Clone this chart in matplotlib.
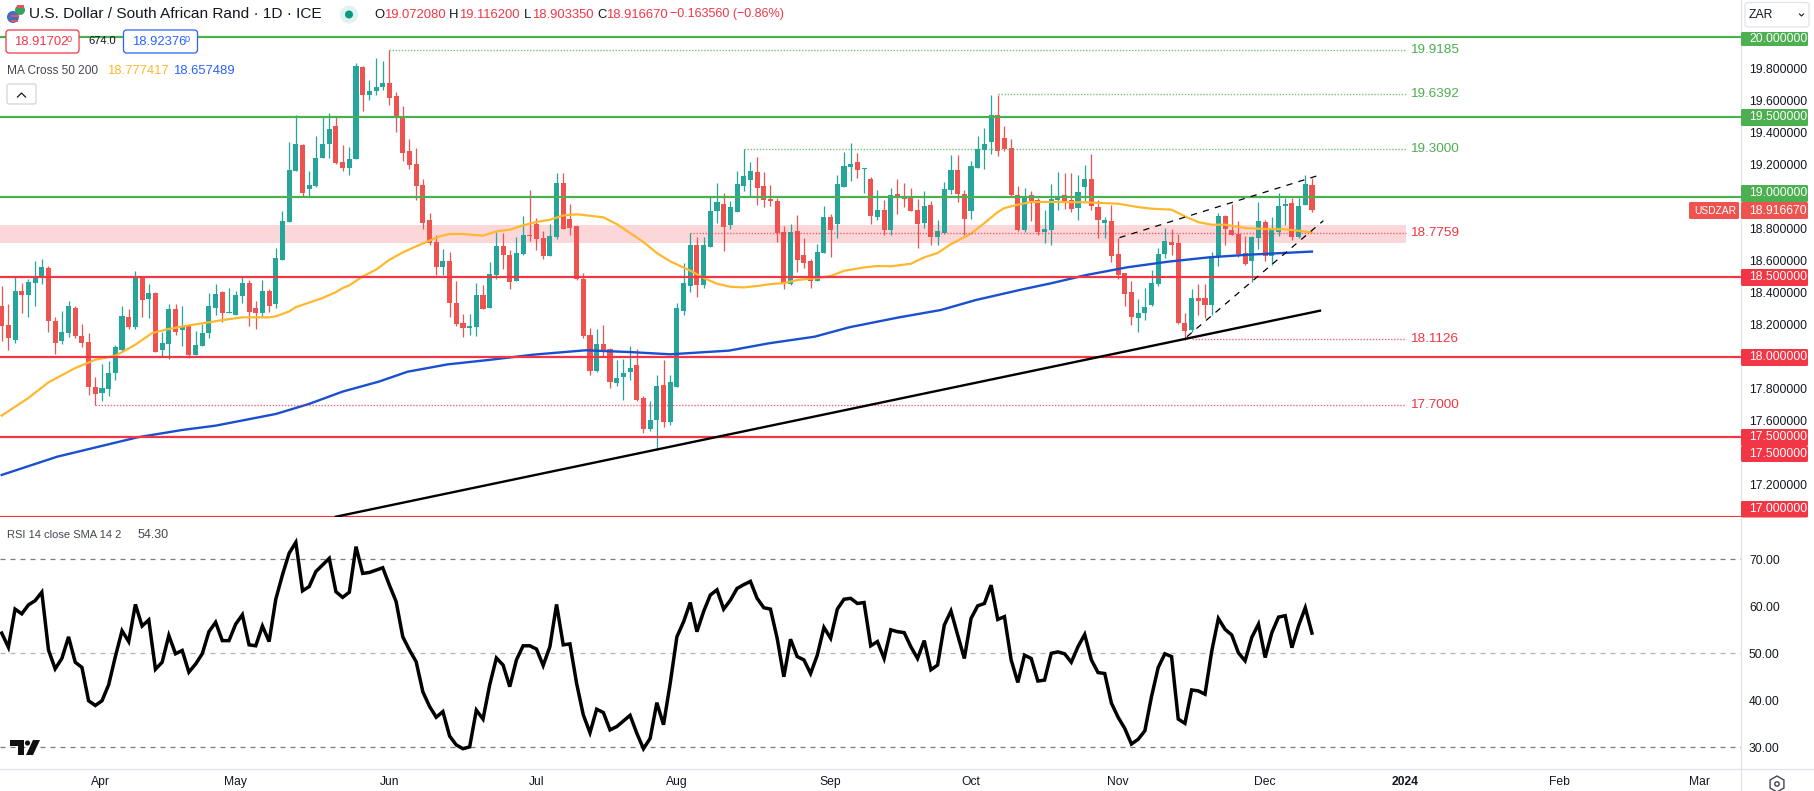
import matplotlib
matplotlib.use("Agg")
import matplotlib.pyplot as plt
from matplotlib.patches import Circle, FancyBboxPatch, Polygon, Rectangle, RegularPolygon

plt.rcParams['font.family'] = ['Liberation Sans', 'DejaVu Sans']

W = 1815
H = 791

# daily candles, one entry per bar
opens = [18.319,18.200,18.106,18.413,18.388,18.463,18.494,18.556,18.225,18.100,
         18.150,18.306,18.131,18.094,17.813,17.775,17.800,17.900,18.044,18.250,
         18.188,18.500,18.363,18.400,18.044,18.081,18.300,18.169,18.200,18.013,
         18.069,18.150,18.306,18.406,18.275,18.263,18.381,18.463,18.306,18.275,
         18.413,18.331,18.606,18.844,19.163,19.325,19.050,19.069,19.244,19.331,
         19.444,19.219,19.181,19.238,19.813,19.638,19.663,19.688,19.713,19.631,
         19.494,19.288,19.206,19.075,18.856,18.719,18.563,18.600,18.338,18.213,
         18.181,18.188,18.388,18.306,18.513,18.694,18.638,18.475,18.644,18.763,
         18.831,18.744,18.631,18.750,19.088,18.863,18.819,18.488,18.138,17.913,
         18.081,18.050,17.838,17.875,17.906,17.950,17.744,17.550,17.606,17.825,
         17.594,17.813,18.286,18.444,18.700,18.450,18.688,18.913,18.956,18.825,
         18.906,19.069,19.106,19.156,19.069,18.988,18.975,18.781,18.456,18.788,
         18.638,18.600,18.475,18.650,18.875,18.831,19.063,19.188,19.219,19.175,
         19.113,18.875,18.919,18.794,19.019,19.006,18.994,18.919,18.838,18.950,
         18.750,18.775,19.044,19.169,19.019,18.913,19.181,19.294,19.344,19.513,
         19.369,19.306,19.013,18.794,19.013,18.981,18.781,18.794,18.981,19.013,
         18.981,18.931,19.063,19.113,18.938,18.838,18.850,18.644,18.525,18.406,
         18.244,18.275,18.325,18.456,18.644,18.719,18.712,18.212,18.169,18.369,
         18.369,18.325,18.631,18.881,18.794,18.769,18.650,18.600,18.744,18.844,
         18.631,18.781,18.944,18.962,18.750,18.950,19.072]
closes = [18.194,18.119,18.413,18.388,18.469,18.500,18.563,18.225,18.088,18.156,
          18.319,18.131,18.088,17.813,17.769,17.806,17.900,18.063,18.256,18.188,
          18.500,18.356,18.400,18.031,18.088,18.300,18.156,18.188,18.013,18.075,
          18.150,18.319,18.394,18.275,18.281,18.388,18.463,18.281,18.275,18.413,
          18.319,18.619,18.850,19.169,19.331,19.025,19.075,19.244,19.331,19.425,
          19.213,19.181,19.238,19.819,19.638,19.663,19.688,19.713,19.619,19.494,
          19.275,19.200,19.069,18.838,18.713,18.563,18.600,18.338,18.206,18.181,
          18.194,18.388,18.300,18.519,18.694,18.638,18.469,18.650,18.763,18.756,
          18.738,18.631,18.756,19.088,18.800,18.806,18.488,18.131,17.913,18.081,
          18.038,17.844,17.869,17.900,17.931,17.731,17.550,17.606,17.819,17.594,
          17.844,18.306,18.462,18.700,18.450,18.700,18.913,18.969,18.813,18.938,
          19.081,19.131,19.163,19.056,18.981,18.975,18.775,18.456,18.781,18.606,
          18.588,18.475,18.656,18.875,18.794,19.081,19.194,19.206,19.169,19.181,
          18.881,18.919,18.794,19.013,19.000,18.988,18.913,18.831,18.944,18.750,
          18.788,19.050,19.169,19.019,18.863,19.194,19.300,19.331,19.513,19.288,
          19.300,19.013,18.794,19.006,18.975,18.781,18.800,18.988,19.000,18.975,
          18.925,19.031,19.113,18.944,18.856,18.856,18.631,18.512,18.394,18.250,
          18.275,18.312,18.462,18.644,18.725,18.700,18.212,18.162,18.369,18.350,
          18.325,18.625,18.881,18.800,18.762,18.644,18.581,18.750,18.850,18.631,
          18.800,18.944,18.956,18.750,18.944,19.081,18.917]
highs = [18.444,18.331,18.498,18.463,18.486,18.600,18.613,18.569,18.250,18.288,
         18.350,18.319,18.206,18.150,17.875,17.956,17.975,18.075,18.319,18.300,
         18.538,18.506,18.456,18.406,18.156,18.331,18.331,18.319,18.206,18.163,
         18.206,18.400,18.456,18.412,18.431,18.412,18.506,18.481,18.350,18.481,
         18.425,18.681,18.913,19.344,19.513,19.331,19.163,19.381,19.500,19.525,
         19.506,19.325,19.313,19.838,19.819,19.731,19.869,19.850,19.919,19.656,
         19.569,19.363,19.306,19.113,18.900,18.763,18.675,18.656,18.475,18.269,
         18.269,18.463,18.450,18.594,18.781,18.775,18.669,18.750,18.881,19.044,
         18.869,18.788,18.831,19.150,19.150,18.956,18.819,18.525,18.181,18.175,
         18.200,18.056,17.981,17.988,18.069,18.050,17.756,17.725,17.888,17.981,
         17.888,18.338,18.587,18.775,18.750,18.750,19.000,19.088,19.025,18.975,
         19.163,19.300,19.219,19.250,19.156,19.075,18.994,18.819,18.831,18.888,
         18.744,18.613,18.706,18.944,18.894,19.138,19.281,19.338,19.275,19.181,
         19.125,19.044,18.981,19.056,19.113,19.088,19.056,18.988,19.038,18.975,
         18.856,19.094,19.263,19.263,19.044,19.225,19.381,19.431,19.638,19.638,
         19.444,19.363,19.069,19.056,19.038,18.994,18.919,19.081,19.156,19.150,
         19.150,19.138,19.200,19.269,18.980,18.875,18.950,18.744,18.525,18.475,
         18.362,18.431,18.544,18.681,18.806,18.800,18.769,18.275,18.425,18.456,
         18.456,18.656,18.900,18.887,18.956,18.850,18.756,18.756,18.969,18.856,
         18.875,19.025,18.994,18.994,18.994,19.137,19.116]
lows = [18.100,18.044,18.088,18.273,18.250,18.319,18.456,18.156,18.019,18.081,
        18.125,18.119,18.063,17.763,17.700,17.725,17.756,17.856,18.038,18.175,
        18.175,18.250,18.244,18.031,18.006,17.988,18.138,18.069,17.994,18.013,
        18.069,18.119,18.263,18.219,18.275,18.263,18.338,18.194,18.175,18.250,
        18.281,18.306,18.606,18.844,19.163,19.000,19.000,19.063,19.244,19.244,
        19.206,19.163,19.138,19.238,19.538,19.606,19.638,19.669,19.575,19.406,
        19.225,19.175,18.981,18.800,18.700,18.513,18.513,18.250,18.194,18.125,
        18.138,18.131,18.300,18.306,18.488,18.550,18.425,18.475,18.638,18.725,
        18.669,18.613,18.631,18.738,18.800,18.763,18.481,18.119,17.888,17.906,
        18.006,17.806,17.819,17.731,17.856,17.725,17.525,17.538,17.419,17.563,
        17.575,17.813,18.260,18.406,18.375,18.431,18.688,18.838,18.663,18.800,
        18.906,19.038,19.000,18.950,18.938,18.944,18.719,18.425,18.450,18.531,
        18.556,18.431,18.475,18.650,18.625,18.744,19.063,19.100,19.119,19.025,
        18.831,18.856,18.763,18.763,18.894,18.938,18.913,18.681,18.806,18.700,
        18.700,18.769,19.019,18.969,18.763,18.863,19.181,19.175,19.269,19.256,
        19.288,19.000,18.788,18.781,18.850,18.763,18.713,18.700,18.919,18.925,
        18.906,18.856,18.975,18.919,18.744,18.744,18.594,18.487,18.319,18.200,
        18.156,18.231,18.319,18.444,18.619,18.637,18.206,18.106,18.156,18.262,
        18.244,18.262,18.569,18.700,18.762,18.625,18.575,18.469,18.675,18.600,
        18.575,18.756,18.825,18.731,18.744,18.950,18.903]

rsi = [54.3,51.3,59.4,58.4,60.3,61.2,63.0,50.7,46.7,48.9,53.5,48.1,47.0,39.9,38.9,39.9,
       43.3,49.3,54.8,52.5,60.4,55.8,57.1,46.6,48.1,53.8,49.9,50.6,46.0,47.7,49.9,54.6,
       56.6,52.7,52.7,56.2,58.2,51.8,51.6,55.8,52.5,61.5,66.7,71.3,73.6,63.3,64.2,67.4,
       68.8,70.2,63.1,61.9,63.0,72.7,67.0,67.2,67.7,68.2,64.5,61.0,53.5,50.7,48.2,41.8,
       38.7,36.4,37.6,32.4,30.5,29.7,30.1,37.9,36.0,43.3,49.0,47.5,42.9,48.6,51.6,51.6,
       50.9,47.4,51.4,60.4,51.8,52.0,43.6,36.9,33.1,38.1,37.4,33.7,34.4,35.6,36.8,33.0,
       29.7,31.9,39.5,34.8,43.6,53.5,56.7,60.8,54.6,58.9,62.4,63.5,59.4,61.3,63.8,64.6,
       65.3,61.7,59.7,59.4,53.2,45.0,53.0,49.3,48.6,45.7,49.6,55.5,53.2,59.4,61.5,61.7,
       60.6,60.8,51.6,52.5,48.9,55.0,54.6,54.4,51.4,48.9,52.7,46.5,47.5,56.0,59.0,53.9,
       48.9,57.4,60.1,60.6,64.5,57.2,57.8,48.6,43.8,49.6,48.9,44.1,44.3,50.0,50.3,49.9,
       48.1,51.4,54.0,48.6,45.9,45.7,39.4,36.4,34.0,30.7,31.7,33.5,40.8,47.0,49.9,49.3,
       36.0,35.1,42.2,42.0,41.3,50.4,57.4,55.1,53.9,50.1,48.4,53.4,56.2,49.1,54.4,57.7,
       58.0,51.2,55.9,59.7,54.3]

# moving averages, read at selected bars
ma50_bar = [0,4,7,11,14,17,20,22.5,25,28,31,33,36,40,41,43,44,46,48,50,51,52,54,56,58,60,62,64,
            65.5,67,69,72,74,76,78,80,82,84,86,88,90,92,94,96,98,100,103,105,107,109,111,113,
            115,117,119,122,124,126,129,131,133,136,138,140,142,145,147,149,150,152,154,158,
            162,164,167,170,172,175,177,179,181,183,186,189,192,194,196]
ma50_val = [17.632,17.742,17.840,17.929,17.981,18.006,18.075,18.148,18.173,18.196,18.215,18.229,
            18.246,18.246,18.252,18.283,18.310,18.338,18.367,18.404,18.429,18.446,18.502,18.544,
            18.606,18.652,18.690,18.725,18.752,18.767,18.767,18.756,18.783,18.794,18.821,18.842,
            18.856,18.883,18.890,18.881,18.871,18.829,18.773,18.717,18.648,18.596,18.538,18.492,
            18.456,18.437,18.433,18.442,18.454,18.460,18.479,18.492,18.504,18.537,18.558,18.567,
            18.565,18.581,18.621,18.648,18.704,18.769,18.835,18.904,18.929,18.950,18.967,18.967,
            18.965,18.962,18.956,18.935,18.925,18.919,18.877,18.841,18.825,18.825,18.804,18.798,
            18.796,18.787,18.777]
ma200_bar = [0,8.3,20.3,27,32,41,46,51,56.4,60.7,66.7,72.7,79.6,87.3,94,100,108.8,114.8,121.6,
             126.8,134,140.5,145.7,152.7,157,162.3,168.4,174.5,180.6,186.7,196]
ma200_val = [17.261,17.375,17.496,17.542,17.569,17.642,17.705,17.782,17.844,17.906,17.952,17.979,
             18.013,18.040,18.029,18.015,18.038,18.084,18.125,18.184,18.244,18.292,18.354,18.421,
             18.459,18.511,18.559,18.594,18.621,18.638,18.657]

green_levels = [20.0, 19.5, 19.0]
red_levels = [18.5, 18.0, 17.5, 17.0]
band_low = 18.713
band_high = 18.822

# dotted swing levels: start bar, price, label
swing_bar = [58, 149, 111, 103, 178, 14]
swing_val = [19.9185, 19.6392, 19.3000, 18.7759, 18.1126, 17.7000]
swing_lab = ["19.9185", "19.6392", "19.3000", "18.7759", "18.1126", "17.7000"]
swing_col = ["#4caf50", "#4caf50", "#4caf50", "#f23645", "#f23645", "#f23645"]

trend_x = [50.0, 197.2]
trend_y = [17.0, 18.2875]
upper_x = [167.2, 197.2]
upper_y = [18.744, 19.136]
lower_x = [177.3, 197.7]
lower_y = [18.125, 18.85]

price_ticks = [19.8, 19.6, 19.4, 19.2, 18.8, 18.6, 18.4, 18.2, 17.8, 17.6, 17.2]
rsi_ticks = [70, 60, 50, 40, 30]
month_bar = [14.7, 35, 58, 80, 101, 124, 145, 167, 189, 210, 233, 254]
month_lab = ["Apr", "May", "Jun", "Jul", "Aug", "Sep", "Oct", "Nov", "Dec", "2024", "Feb", "Mar"]

UP = "#26a69a"
DOWN = "#ef5350"
TXT = "#131722"
GRID = "#e0e3eb"
ORANGE = "#ffb82e"
BLUE = "#1a4fd0"
LINE_GREEN = "#4caf50"
LINE_RED = "#f23645"

fig = plt.figure(figsize=(W/100, H/100), dpi=100, facecolor="white")

PANE_R = 1741.5
BAR_W = 6.685
BAR0 = 1.7


def pane(top, bottom):
    return fig.add_axes([0, 1 - bottom/H, PANE_R/W, (bottom - top)/H])


ax = pane(0, 517)
ax.set_xlim(-BAR0/BAR_W, (PANE_R - BAR0)/BAR_W)
ax.set_ylim(20 - (517 - 36.7)/160, 20 + 36.7/160)
ax2 = pane(519, 769.3)
ax2.set_xlim(ax.get_xlim())
ax2.set_ylim(30 - (769.3 - 747.3)/4.7, 70 + (559.3 - 519)/4.7)

for a in (ax, ax2):
    for s in a.spines.values():
        s.set_visible(False)
    a.yaxis.tick_right()
    a.tick_params(axis="y", length=0, pad=5.4, labelsize=8.7, labelcolor=TXT)
    a.patch.set_alpha(0)

# price pane
ax.axhspan(band_low, band_high, xmin=0, xmax=1406.5/PANE_R, color="#fbd7da", lw=0, zorder=1)

x = list(range(len(opens)))
col = [UP if c >= o else DOWN for o, c in zip(opens, closes)]
ax.vlines(x, lows, highs, colors=col, lw=0.9, zorder=2)
ax.bar(x, [abs(c - o) for o, c in zip(opens, closes)],
       bottom=[min(o, c) for o, c in zip(opens, closes)],
       width=0.76, color=col, lw=0, zorder=3)

ax.plot(ma50_bar, ma50_val, color=ORANGE, lw=1.6, zorder=4)
ax.plot(ma200_bar, ma200_val, color=BLUE, lw=1.7, zorder=4)

for lev in green_levels:
    ax.axhline(lev, color=LINE_GREEN, lw=1.6, zorder=5)
for lev in red_levels:
    ax.axhline(lev, color=LINE_RED, lw=1.6, zorder=5)

x_end = (1406.5 - BAR0)/BAR_W
for b, v, lab, c in zip(swing_bar, swing_val, swing_lab, swing_col):
    ax.plot([b, x_end], [v, v], color=c, lw=1.0, ls=(0, (1, 1.2)), alpha=0.75, zorder=5)
    ax.text(x_end + 0.5, v, lab, color=c, fontsize=9.7, va="center", ha="left", zorder=6)

ax.plot(trend_x, trend_y, color="black", lw=1.7, zorder=6)
ax.plot(upper_x, upper_y, color="black", lw=0.9, ls=(0, (5, 5)), zorder=6)
ax.plot(lower_x, lower_y, color="black", lw=0.9, ls=(0, (5, 5)), zorder=6)

ax.set_xticks([])
ax.set_yticks(price_ticks)
ax.set_yticklabels(["%.6f" % t for t in price_ticks])

# rsi pane
ax2.axhline(70, color="#787b86", lw=0.9, ls=(0, (4, 4)))
ax2.axhline(50, color="#b2b5be", lw=0.9, ls=(0, (4, 4)))
ax2.axhline(30, color="#787b86", lw=0.9, ls=(0, (4, 4)))
ax2.plot(x, rsi, color="black", lw=2.5, solid_joinstyle="miter")
ax2.set_yticks(rsi_ticks)
ax2.set_yticklabels(["%.2f" % t for t in rsi_ticks])
ax2.set_xticks(month_bar)
ax2.set_xticklabels(month_lab)
ax2.tick_params(axis="x", length=0, pad=5.0, labelsize=8.7, labelcolor=TXT)
ax2.get_xticklabels()[9].set_fontweight("bold")

# overlay in screen pixels for the chart furniture
ov = fig.add_axes([0, 0, 1, 1])
ov.set_xlim(0, W)
ov.set_ylim(H, 0)
ov.axis("off")
ov.patch.set_alpha(0)

ov.plot([PANE_R, PANE_R], [0, H], color=GRID, lw=0.9)
ov.plot([0, W], [769.3, 769.3], color=GRID, lw=0.9)


def tag(x0, x1, y0, y1, text, color, tx=None, size=8.7):
    ov.add_patch(FancyBboxPatch((x0 + 1, y0 + 1), x1 - x0 - 2, y1 - y0 - 2,
                                boxstyle="round,pad=1,rounding_size=1.5", fc=color, ec="none", zorder=8))
    ov.text(x0 + 8 if tx is None else tx, (y0 + y1)/2, text, color="white", fontsize=size,
            va="center", ha="left", zorder=9)


tag(1741, 1808, 32, 46, "20.000000", LINE_GREEN)
tag(1741, 1808, 109, 126, "19.500000", LINE_GREEN)
tag(1741, 1808, 185, 202, "19.000000", LINE_GREEN)
tag(1741, 1808, 202, 219, "18.916670", DOWN)
tag(1689, 1739, 202, 219, "USDZAR", DOWN, tx=1694, size=7.4)
tag(1741, 1808, 269, 286, "18.500000", LINE_RED)
tag(1741, 1808, 349, 366, "18.000000", LINE_RED)
tag(1741, 1808, 429, 446, "17.500000", LINE_RED)
tag(1741, 1808, 446, 462, "17.500000", LINE_RED)
tag(1741, 1808, 501, 517.5, "17.000000", LINE_RED)

# legend header
ov.add_patch(Circle((13, 17), 6, fc="#3f6fc4", ec="none", zorder=8))
ov.add_patch(Rectangle((11, 15), 8, 2, fc="#e8505b", ec="none", zorder=9))
ov.add_patch(Rectangle((11, 20), 7, 2, fc="#e8505b", ec="none", zorder=9))
ov.add_patch(Circle((20, 10), 5, fc="#37a35a", ec="none", zorder=8))
ov.add_patch(Rectangle((17, 5), 7, 3, fc="#e8505b", ec="none", zorder=9))
ov.text(29, 14.5, "U.S. Dollar / South African Rand · 1D · ICE", color=TXT, fontsize=11.1,
        va="center", ha="left")
ov.add_patch(Circle((349, 14.5), 9, fc="#dff3ef", ec="none"))
ov.add_patch(Circle((349, 14.5), 4, fc="#089981", ec="none"))

for tx, lab in zip([374, 449, 524, 597], ["O", "H", "L", "C"]):
    ov.text(tx, 14.5, lab, color=TXT, fontsize=9.4, va="center", ha="left")
for tx, lab in zip([384, 459, 532, 606], ["19.072080", "19.116200", "18.903350", "18.916670"]):
    ov.text(tx, 14.5, lab, color=LINE_RED, fontsize=9.4, va="center", ha="left")
ov.text(670.5, 14.5, "−0.163560 (−0.86%)", color=LINE_RED, fontsize=9.0, va="center", ha="left")

ov.add_patch(FancyBboxPatch((7, 31), 71, 21, boxstyle="round,pad=1,rounding_size=3",
                            fc="white", ec=LINE_RED, lw=0.9, zorder=7))
ov.text(14, 42, "18.91702", color=LINE_RED, fontsize=9.4, va="center", ha="left", zorder=8)
ov.text(67, 39, "0", color=LINE_RED, fontsize=6.6, va="center", ha="left", zorder=8)
ov.text(88, 41.5, "674.0", color=TXT, fontsize=8.0, va="center", ha="left", zorder=8)
ov.add_patch(FancyBboxPatch((124.5, 31), 72, 21, boxstyle="round,pad=1,rounding_size=3",
                            fc="white", ec="#2962ff", lw=0.9, zorder=7))
ov.text(132, 42, "18.92376", color="#2962ff", fontsize=9.4, va="center", ha="left", zorder=8)
ov.text(185, 39, "0", color="#2962ff", fontsize=6.6, va="center", ha="left", zorder=8)

ov.text(7, 70.5, "MA Cross 50 200", color="#434651", fontsize=8.6, va="center", ha="left")
ov.text(107, 70.5, "18.777417", color="#ffb82e", fontsize=9.4, va="center", ha="left")
ov.text(173, 70.5, "18.657489", color="#2962ff", fontsize=9.4, va="center", ha="left")
ov.add_patch(FancyBboxPatch((8, 85), 27, 18, boxstyle="round,pad=1,rounding_size=2",
                            fc="white", ec="#d1d4dc", lw=0.9))
ov.plot([17.5, 21.5, 25.5], [97, 93, 97], color=TXT, lw=0.9)

ov.text(7, 535, "RSI 14 close SMA 14 2", color="#434651", fontsize=8.0, va="center", ha="left")
ov.text(138, 535, "54.30", color="#434651", fontsize=9.0, va="center", ha="left")

# trading view mark
ov.add_patch(Polygon([[10, 740], [24, 740], [24, 755], [18, 755], [18, 746], [10, 746]], fc="#0f0f0f", ec="none"))
ov.add_patch(Circle((27.5, 743), 2.6, fc="#0f0f0f", ec="none"))
ov.add_patch(Polygon([[33, 740], [40, 740], [33, 755], [26, 755]], fc="#0f0f0f", ec="none"))

# symbol selector and settings cog
ov.add_patch(FancyBboxPatch((1746, 3.5), 62, 22.5, boxstyle="round,pad=1,rounding_size=3",
                            fc="white", ec=GRID, lw=0.9))
ov.text(1749, 14.7, "ZAR", color=TXT, fontsize=8.8, va="center", ha="left")
ov.plot([1799.5, 1801.5, 1803.5], [14, 16, 14], color=TXT, lw=0.8)
ov.add_patch(RegularPolygon((1777, 784), 6, radius=8, fc="white", ec="#434651", lw=1.0))
ov.add_patch(Circle((1777, 784), 2.2, fc="white", ec="#434651", lw=1.0))

fig.savefig("out.png", dpi=100, facecolor="white")
